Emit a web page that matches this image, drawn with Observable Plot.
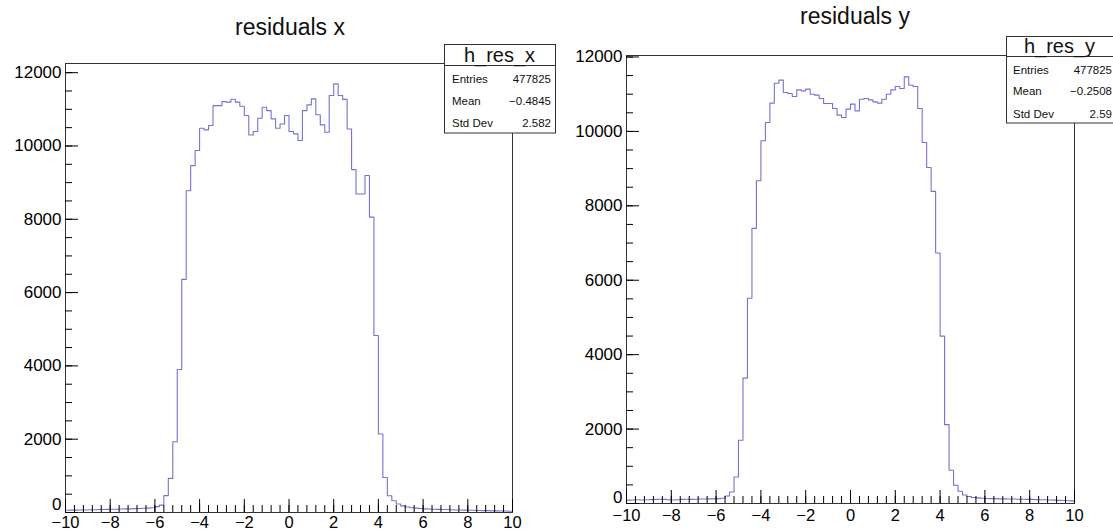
<!DOCTYPE html>
<html><head><meta charset="utf-8">
<script src="https://cdn.jsdelivr.net/npm/d3@7"></script>
<script src="https://cdn.jsdelivr.net/npm/@observablehq/plot@0.6"></script>
<style>
body{margin:0;background:#fff;}
#wrap{position:relative;width:1113px;height:532px;overflow:hidden;background:#fff;}
#wrap > svg{position:absolute;top:0;}
</style></head><body><div id="wrap"></div>
<script>
// ---- data ----
const binLow = -10, binWidth = 0.2; // 100 bins from -10 to 10
const resX = [
  60,65,65,70,70,75,75,80,80,85,90,90,95,100,100,105,110,115,120,130,
  160,200,460,930,1930,3900,6360,8780,9465,9875,
  10485,10440,10560,11100,11100,11210,11195,11275,11195,11085,
  10830,10300,10395,10755,11055,10965,10740,10485,10600,10830,
  10395,10330,10150,10965,11120,11285,10850,10575,10375,11375,
  11695,11375,11270,10465,9355,8690,8690,9195,8060,4830,
  2140,955,455,320,230,180,150,130,120,110,
  100,95,90,85,80,80,75,70,70,65,
  60,60,55,50,50,45,45,40,40,35
];
const resY = [
  90,95,100,95,100,105,110,115,110,100,95,100,110,115,110,115,120,120,125,125,
  130,140,200,311,714,1698,3370,5517,7395,8675,
  9748,10239,10759,11296,11377,11045,11017,10937,11117,11090,
  11135,11000,10975,10885,10750,10750,10614,10437,10373,10598,
  10732,10553,10866,10884,10848,10794,10759,10866,11000,11117,
  11206,11152,11466,11242,11206,10614,9703,9032,8388,6734,
  4497,2119,894,490,330,230,190,160,150,140,
  135,130,130,125,125,120,120,115,115,110,
  110,105,100,100,95,90,85,80,75,70
];
const xMajorTicks = [-10,-8,-6,-4,-2,0,2,4,6,8,10];
const xMinorTicks = [-10,-9.6,-9.2,-8.8,-8.4,-8,-7.6,-7.2,-6.8,-6.4,-6,-5.6,-5.2,-4.8,-4.4,-4,-3.6,-3.2,-2.8,-2.4,-2,
  -1.6,-1.2,-0.8,-0.4,0,0.4,0.8,1.2,1.6,2,2.4,2.8,3.2,3.6,4,4.4,4.8,5.2,5.6,6,6.4,6.8,7.2,7.6,8,8.4,8.8,9.2,9.6,10];
const yMajorTicks = [0,2000,4000,6000,8000,10000,12000];
const yMinorTicks = [0,500,1000,1500,2000,2500,3000,3500,4000,4500,5000,5500,6000,6500,7000,7500,8000,8500,9000,9500,10000,10500,11000,11500,12000];
const titles = ["residuals x", "residuals y"];
const statNames = ["h_res_x", "h_res_y"];
const statLabels = ["Entries", "Mean", "Std Dev"];
const statsX = ["477825", "\u22120.4845", "2.582"];
const statsY = ["477825", "\u22120.2508", "2.59"];

const FONT = '"Liberation Sans", Arial, Helvetica, sans-serif';
const wrap = document.getElementById("wrap");

function panel(vals, o) {
  const data = vals.map((v, i) => ({x: binLow + i * binWidth, y: v}));
  data.push({x: binLow + vals.length * binWidth, y: vals[vals.length - 1]});
  const H = 532;
  const FW = o.width - o.ml - o.mr, FH = H - o.mt - o.mb;
  const fmt = d3.format("d");
  const svg = Plot.plot({
    width: o.width, height: H,
    marginLeft: o.ml, marginRight: o.mr, marginTop: o.mt, marginBottom: o.mb,
    style: {fontFamily: FONT, fontSize: "17px", color: "black", background: "transparent"},
    x: {domain: [-10, 10], label: null},
    y: {domain: [0, o.ymax], label: null},
    marks: [
      Plot.line(data, {x: "x", y: "y", curve: "step-after", stroke: "#7474d0", strokeWidth: 1.1}),
      Plot.frame({stroke: "#333", strokeWidth: 1}),
      Plot.tickX(xMinorTicks, {x: d => d, insetTop: FH - 7, stroke: "black"}),
      Plot.tickX(xMajorTicks, {x: d => d, insetTop: FH - 13, stroke: "black"}),
      Plot.tickY(yMinorTicks, {y: d => d, insetRight: FW - 7, stroke: "black"}),
      Plot.tickY(yMajorTicks, {y: d => d, insetRight: FW - 13, stroke: "black"}),
      Plot.axisX(xMajorTicks, {tickSize: 0, tickPadding: o.xpad, tickFormat: fmt, label: null, fontSize: 16.5}),
      Plot.axisY(yMajorTicks.filter(d => d > 0), {tickSize: 0, tickPadding: 4, tickFormat: fmt, label: null}),
      Plot.axisY(yMajorTicks.filter(d => d === 0), {tickSize: 0, tickPadding: 4, tickFormat: fmt, label: null, dy: o.zeroDy})
    ]
  });
  svg.style.left = o.left + "px";
  wrap.appendChild(svg);
}

panel(resX, {left: 0, width: 556, ml: 65, mr: 44, mt: 63, mb: 20, ymax: 12250, xpad: 4, zeroDy: -8});
panel(resY, {left: 557, width: 556, ml: 69, mr: 39, mt: 55, mb: 29, ymax: 12040, xpad: 6, zeroDy: -6});

// ---- overlay: titles and stats boxes ----
const ov = d3.create("svg").attr("width", 1113).attr("height", 532)
  .style("left", "0px").style("font-family", FONT);
const titlePos = [{x: 290, y: 35}, {x: 855, y: 24}];
titles.forEach((t, i) => {
  ov.append("text").attr("x", titlePos[i].x).attr("y", titlePos[i].y)
    .attr("text-anchor", "middle").attr("font-size", 23).attr("fill", "#111").text(t);
});
const boxes = [
  {x: 444.5, y: 44.5, w: 111, h: 88.5, sep: 65.5, hx: 499.5, hy: 61.5, lx: 452, vx: 551, rows: [83, 104.7, 127.3], vals: statsX},
  {x: 1006.5, y: 36.5, w: 120, h: 86.5, sep: 56.5, hx: 1059.5, hy: 52.5, lx: 1013, vx: 1112, rows: [73.5, 95, 117.5], vals: statsY}
];
boxes.forEach((b, i) => {
  ov.append("rect").attr("x", b.x).attr("y", b.y).attr("width", b.w).attr("height", b.h)
    .attr("fill", "white").attr("stroke", "#333");
  ov.append("line").attr("x1", b.x).attr("x2", b.x + b.w).attr("y1", b.sep).attr("y2", b.sep).attr("stroke", "#333");
  ov.append("text").attr("x", b.hx).attr("y", b.hy).attr("text-anchor", "middle")
    .attr("font-size", 20).attr("fill", "#111").text(statNames[i]);
  statLabels.forEach((l, j) => {
    ov.append("text").attr("x", b.lx).attr("y", b.rows[j]).attr("font-size", 11.5).attr("fill", "#111").text(l);
    ov.append("text").attr("x", b.vx).attr("y", b.rows[j]).attr("text-anchor", "end")
      .attr("font-size", 11.5).attr("fill", "#111").text(b.vals[j]);
  });
});
wrap.appendChild(ov.node());
</script></body></html>
